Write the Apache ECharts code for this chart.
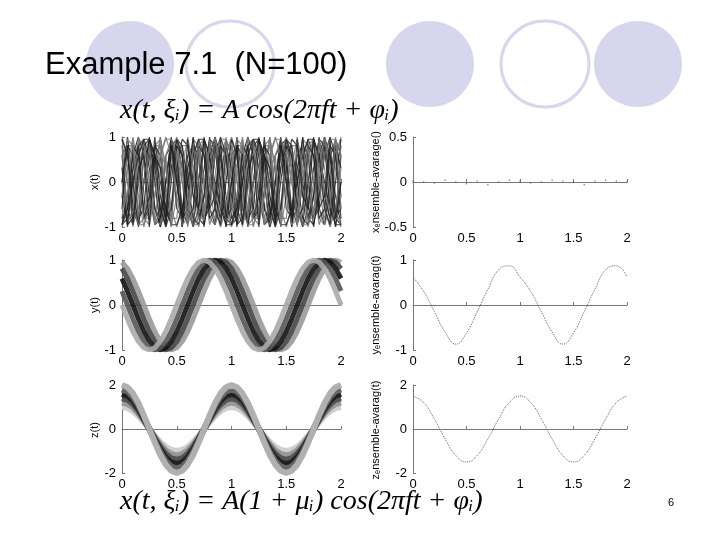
<!DOCTYPE html>
<html>
<head>
<meta charset="utf-8">
<script src="https://cdn.jsdelivr.net/npm/echarts@6/dist/echarts.min.js"></script>
<style>body{margin:0;background:#fff}#main{width:720px;height:540px}</style>
</head>
<body>
<div id="main"></div>
<script>
// one period of the cosine shape, read at steps of 0.05 (20 samples)
var shape = [1, 0.95, 0.81, 0.59, 0.31, 0, -0.31, -0.59, -0.81, -0.95, -1, -0.95, -0.81, -0.59, -0.31, 0, 0.31, 0.59, 0.81, 0.95];
var tTicks = ["0", "0.5", "1", "1.5", "2"];

// panel 1: random phase ensemble (shift in samples, stride = frequency)
var xShifts = [0, 3, 7, 11, 14, 17, 2, 9, 5, 13, 18, 6, 1, 15, 10, 4, 12, 8, 16, 19, 3, 11, 7, 15];
var xStrides = [3, 4, 5, 3, 4, 5, 6, 3, 4, 5, 6, 3, 4, 5, 3, 6, 4, 5, 3, 4, 2, 2, 7, 7];
var xAvg = [0.01, 0.0, -0.01, 0.02, 0.0, -0.02, 0.01, -0.03, 0.0, 0.02, 0.01, -0.01, 0.0, 0.02, 0.01, 0.0, -0.03, 0.01, 0.02, 0.01, 0.0];

// panel 2: small phase spread, peak near t=0.85
var yShifts = [-2, -1, 0, 1, 2];
var yGrays = ["#999", "#444", "#111", "#555", "#aaa"];
var yAvg = [0.62, 0.3, -0.15, -0.6, -0.87, -0.62, -0.15, 0.35, 0.78, 0.87, 0.62, 0.3, -0.15, -0.6, -0.87, -0.62, -0.15, 0.35, 0.78, 0.87, 0.62];

// panel 3: random amplitude ensemble
var zAmps = [1, 1.2, 1.4, 1.6, 1.8, 2];
var zGrays = ["#d0d0d0", "#999", "#555", "#222", "#666", "#b0b0b0"];
var zAvg = [1.5, 1.2, 0.45, -0.45, -1.2, -1.5, -1.2, -0.45, 0.45, 1.2, 1.5, 1.2, 0.45, -0.45, -1.2, -1.5, -1.2, -0.45, 0.45, 1.2, 1.5];

var chart = echarts.init(document.getElementById('main'));

function tAt(k) { return +(k * 0.05).toFixed(2); }
function shapeLine(shift, stride, amp) {
    var pts = [];
    for (var k = 0; k <= 40; k++) {
        var idx = ((k * stride + shift) % 20 + 20) % 20;
        pts.push([tAt(k), amp * shape[idx]]);
    }
    return pts;
}

var rows = [[137, 90], [260, 90], [385, 88]];
var grids = [], xAxes = [], yAxes = [], series = [];
var yRanges = [[-1, 1, 1], [-0.5, 0.5, 0.5], [-1, 1, 1], [-1, 1, 1], [-2, 2, 2], [-2, 2, 2]];
for (var r = 0; r < 3; r++) {
    for (var c = 0; c < 2; c++) {
        var i = r * 2 + c;
        grids.push({ left: c ? 413 : 122, width: c ? 214 : 219, top: rows[r][0], height: rows[r][1] });
        xAxes.push({
            gridIndex: i, type: 'value', min: 0, max: 2, interval: 0.5,
            axisLine: { lineStyle: { color: '#777' } },
            axisTick: { inside: true, length: 3, lineStyle: { color: '#777' } },
            splitLine: { show: false },
            axisLabel: { color: '#000', fontSize: 13, fontFamily: 'Liberation Sans', margin: 5 }
        });
        yAxes.push({
            gridIndex: i, type: 'value', min: yRanges[i][0], max: yRanges[i][1], interval: yRanges[i][2],
            axisLine: { show: true, lineStyle: { color: '#777' } },
            axisTick: { inside: true, length: 3, lineStyle: { color: '#777' } },
            splitLine: { show: false },
            axisLabel: { color: '#000', fontSize: 13, fontFamily: 'Liberation Sans', margin: 6 }
        });
    }
}

xShifts.forEach(function (s, j) {
    series.push({ type: 'line', xAxisIndex: 0, yAxisIndex: 0, data: shapeLine(s, xStrides[j], 1), symbol: 'none', silent: true,
        lineStyle: { color: j % 2 ? '#222' : '#777', width: 1.2, opacity: 0.85 } });
});
series.push({ type: 'scatter', xAxisIndex: 1, yAxisIndex: 1, data: xAvg.map(function (v, k) { return [k * 0.1, v]; }), symbolSize: 1.5, itemStyle: { color: '#555' } });

yShifts.forEach(function (s, j) {
    series.push({ type: 'line', xAxisIndex: 2, yAxisIndex: 2, data: shapeLine(s + 3, 1, 1), symbol: 'none', silent: true,
        lineStyle: { color: yGrays[j], width: 5, opacity: 0.9 } });
});
series.push({ type: 'line', xAxisIndex: 3, yAxisIndex: 3, data: yAvg.map(function (v, k) { return [k * 0.1, v]; }), symbol: 'none', smooth: true,
    lineStyle: { color: '#666', width: 1, type: 'dotted' } });

zAmps.forEach(function (a, j) {
    series.push({ type: 'line', xAxisIndex: 4, yAxisIndex: 4, data: shapeLine(0, 1, a), symbol: 'none', silent: true,
        lineStyle: { color: zGrays[j], width: 6 } });
});
series.push({ type: 'line', xAxisIndex: 5, yAxisIndex: 5, data: zAvg.map(function (v, k) { return [k * 0.1, v]; }), symbol: 'none', smooth: true,
    lineStyle: { color: '#666', width: 1, type: 'dotted' } });

var disc = { fill: '#d6d6ec' }, ring = { fill: '#fff', stroke: '#d6d6ec', lineWidth: 3 };
function circ(cx, st) { return { type: 'ellipse', z: -10, shape: { cx: cx, cy: 64, rx: 44, ry: 43 }, style: st }; }
function vtext(x, y, t) {
    return { type: 'text', x: x, y: y, rotation: Math.PI / 2, style: { text: t, fill: '#000', font: '11px Liberation Sans', align: 'center', verticalAlign: 'middle' } };
}
var formula = 'italic 28px "Liberation Serif"';

chart.setOption({
    animation: false,
    grid: grids, xAxis: xAxes, yAxis: yAxes, series: series,
    graphic: [
        circ(130, disc), circ(230, ring), circ(430, disc), circ(545, ring), circ(638, disc),
        { type: 'text', left: 45, top: 50, style: { text: 'Example 7.1  (N=100)', fill: '#000', font: '31px Liberation Sans' } },
        { type: 'text', left: 120, top: 97, style: { text: 'x(t, ξ\u1d62) = A cos(2πft + φ\u1d62)', fill: '#000', font: formula } },
        { type: 'text', left: 120, top: 488, style: { text: 'x(t, ξ\u1d62) = A(1 + μ\u1d62) cos(2πft + φ\u1d62)', fill: '#000', font: formula } },
        { type: 'text', left: 668, top: 497, style: { text: '6', fill: '#000', font: '11px Liberation Sans' } },
        vtext(95, 182, 'x(t)'), vtext(95, 305, 'y(t)'), vtext(95, 430, 'z(t)'),
        vtext(376, 182, 'x\u2091nsemble-avarage()'), vtext(376, 305, 'y\u2091nsemble-avarag(t)'), vtext(376, 430, 'z\u2091nsemble-avarag(t)')
    ]
});
</script>
</body>
</html>
